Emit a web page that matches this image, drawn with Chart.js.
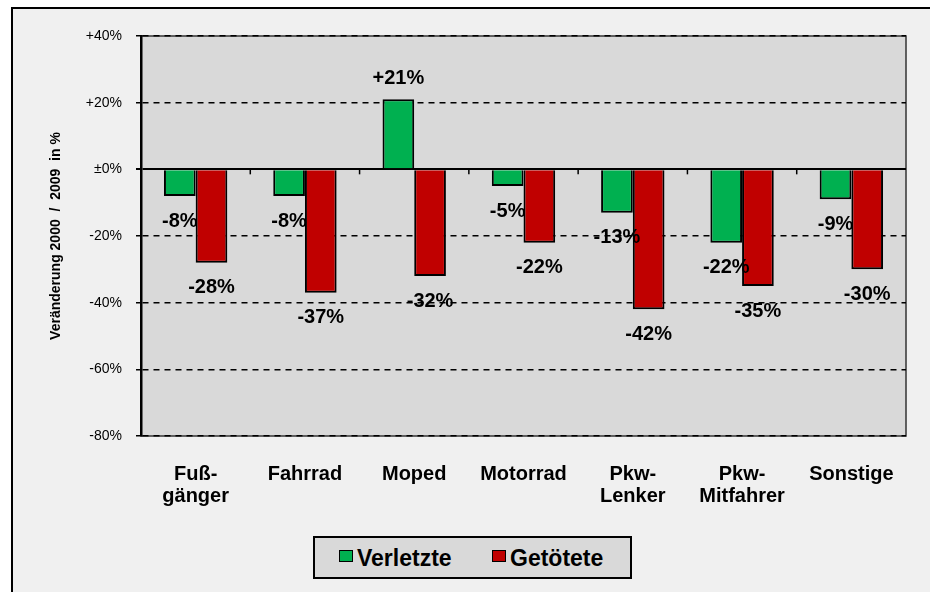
<!DOCTYPE html>
<html>
<head>
<meta charset="utf-8">
<script src="https://cdn.jsdelivr.net/npm/chart.js@4.4.1/dist/chart.umd.min.js"></script>
<style>
  body { margin: 0; background: #fff; }
  #wrap { position: relative; width: 930px; height: 592px; overflow: hidden; }
  #frame { position: absolute; left: 11px; top: 7px; width: 980px; height: 640px; border: 2px solid #000; background: #f0f0f0; }
  #chart { position: absolute; left: 0; top: 0; }
  #legend { position: absolute; left: 313px; top: 536px; width: 315px; height: 39px; border: 2px solid #000; background: #d9d9d9;
            font: bold 23px "Liberation Sans", Arial, sans-serif; }
  .item { position: absolute; top: 7px; display: flex; align-items: center; }
  .box { width: 12px; height: 10px; border: 1px solid #000; margin-right: 4px; margin-top: -6px; }
</style>
</head>
<body>
<div id="wrap">
  <div id="frame"></div>
  <canvas id="chart" width="930" height="592"></canvas>
  <div id="legend"></div>
</div>
<script>
const categories = [["Fuß-", "gänger"], "Fahrrad", "Moped", "Motorrad", ["Pkw-", "Lenker"], ["Pkw-", "Mitfahrer"], "Sonstige"];
const verletzte = [-8, -8, 21, -5, -13, -22, -9];
const getoetete = [-28, -37, -32, -22, -42, -35, -30];
const yTicks = [40, 20, 0, -20, -40, -60, -80];
const yTickLabels = ["+40%", "+20%", "±0%", "-20%", "-40%", "-60%", "-80%"];

Chart.defaults.font.family = '"Liberation Sans", Arial, sans-serif';
Chart.defaults.color = '#000';

const fmt = v => (v > 0 ? '+' : '') + v + '%';

// plot background, outline, small ticks on the zero line, value labels
const extras = {
  id: 'extras',
  beforeDraw(chart) {
    const { ctx, chartArea: a } = chart;
    ctx.save();
    ctx.fillStyle = '#d9d9d9';
    ctx.fillRect(a.left, a.top, a.right - a.left, a.bottom - a.top);
    ctx.strokeStyle = '#333';
    ctx.lineWidth = 1.5;
    ctx.strokeRect(a.left, a.top, a.right - a.left, a.bottom - a.top);
    ctx.restore();
  },
  beforeDatasetsDraw(chart) {
    const { ctx, scales: { x, y } } = chart;
    const y0 = y.getPixelForValue(0);
    ctx.save();
    ctx.strokeStyle = '#000';
    ctx.lineWidth = 1.5;
    for (let i = 1; i < categories.length; i++) {
      const bx = (x.getPixelForValue(i - 1) + x.getPixelForValue(i)) / 2;
      ctx.beginPath();
      ctx.moveTo(bx, y0);
      ctx.lineTo(bx, y0 + 5);
      ctx.stroke();
    }
    ctx.restore();
  },
  afterDatasetsDraw(chart) {
    const { ctx } = chart;
    ctx.save();
    ctx.font = 'bold 20px "Liberation Sans", Arial, sans-serif';
    ctx.fillStyle = '#000';
    ctx.textAlign = 'center';
    ctx.textBaseline = 'middle';
    chart.data.datasets.forEach((ds, di) => {
      chart.getDatasetMeta(di).data.forEach((bar, i) => {
        const v = ds.data[i];
        const ty = v >= 0 ? bar.y - 21 : bar.y + 25;
        ctx.fillText(fmt(v), bar.x, ty);
      });
    });
    ctx.restore();
  }
};

const chart = new Chart(document.getElementById('chart'), {
  type: 'bar',
  data: {
    labels: categories,
    datasets: [
      { label: 'Verletzte', data: verletzte, backgroundColor: '#00b050', borderColor: '#000', borderWidth: 2 },
      { label: 'Getötete', data: getoetete, backgroundColor: '#c00000', borderColor: '#000', borderWidth: 2 }
    ]
  },
  options: {
    responsive: false,
    animation: false,
    categoryPercentage: 0.58,
    barPercentage: 1.0,
    layout: { padding: { top: 36, right: 24, left: 0, bottom: 0 } },
    plugins: { legend: { display: false }, tooltip: { enabled: false } },
    scales: {
      x: {
        grid: { display: false },
        border: { display: false },
        ticks: { font: { size: 20, weight: 'bold', lineHeight: 1.1 }, padding: 19, maxRotation: 0, autoSkip: false },
        afterFit(s) { s.height = 156; }
      },
      y: {
        min: -80, max: 40,
        afterBuildTicks(s) { s.ticks = yTicks.map(v => ({ value: v })); },
        ticks: {
          font: { size: 14 },
          padding: 14,
          callback: v => yTickLabels[yTicks.indexOf(v)]
        },
        grid: {
          color: '#000',
          lineWidth: ctx => (ctx.tick && ctx.tick.value === 0 ? 2 : 1.5),
          tickLength: 5
        },
        border: {
          display: true, color: '#000', width: 2.5,
          dash: ctx => (ctx.tick && ctx.tick.value === 0 ? [] : [6, 5])
        },
        title: {
          display: true,
          text: 'Veränderung 2000  /  2009  in %',
          font: { size: 14, weight: 'bold' },
          padding: { top: 48, bottom: 0 }
        },
        afterFit(s) { s.width = 141; }
      }
    }
  },
  plugins: [extras]
});

// legend box
const legend = document.getElementById('legend');
const itemX = [24, 177];
chart.data.datasets.forEach((ds, i) => {
  const it = document.createElement('div');
  it.className = 'item';
  it.style.left = itemX[i] + 'px';
  const b = document.createElement('span');
  b.className = 'box';
  b.style.background = ds.backgroundColor;
  const t = document.createElement('span');
  t.textContent = ds.label;
  it.appendChild(b);
  it.appendChild(t);
  legend.appendChild(it);
});
</script>
</body>
</html>
